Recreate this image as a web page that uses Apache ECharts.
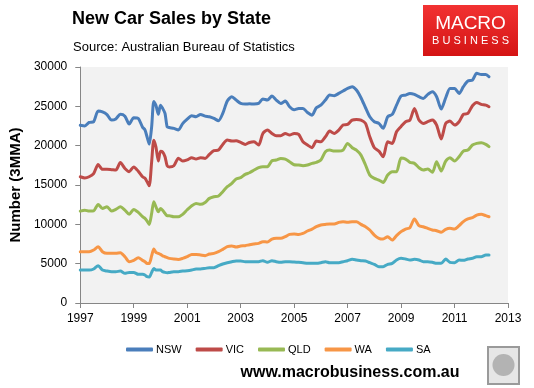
<!DOCTYPE html>
<html>
<head>
<meta charset="utf-8">
<script src="https://cdn.jsdelivr.net/npm/echarts@6/dist/echarts.min.js"></script>
<style>
html,body{margin:0;padding:0;background:#fff;}
#chart{width:534px;height:388px;}
</style>
</head>
<body>
<div id="chart"></div>
<script>
// Shared time grid (decimal years)
const years = [
  1997.0,1997.17,1997.33,1997.5,1997.67,1997.83,
  1998.0,1998.17,1998.33,1998.5,1998.67,1998.83,
  1999.0,1999.17,1999.33,1999.42,1999.5,1999.58,1999.67,1999.75,1999.83,1999.92,
  2000.0,2000.08,2000.17,2000.25,2000.33,2000.5,2000.67,2000.83,
  2001.0,2001.17,2001.33,2001.5,2001.67,2001.83,
  2002.0,2002.17,2002.33,2002.5,2002.67,2002.83,
  2003.0,2003.17,2003.33,2003.5,2003.67,2003.83,
  2004.0,2004.17,2004.33,2004.5,2004.67,2004.83,
  2005.0,2005.17,2005.33,2005.5,2005.67,2005.83,
  2006.0,2006.17,2006.33,2006.5,2006.67,2006.83,
  2007.0,2007.17,2007.33,2007.5,2007.67,2007.83,
  2008.0,2008.17,2008.33,2008.5,2008.67,2008.83,
  2009.0,2009.17,2009.33,2009.5,2009.67,2009.83,
  2010.0,2010.17,2010.33,2010.5,2010.67,2010.83,
  2011.0,2011.17,2011.33,2011.5,2011.67,2011.83,
  2012.0,2012.17,2012.29
];

const nsw = [
  22600,22500,22950,23050,24400,24300,
  23950,23250,23400,24000,23750,22750,
  23550,23450,22350,22000,21100,20200,22400,25600,25150,24000,
  25150,24750,24100,22400,22300,22200,22000,22800,
  23370,23800,23680,23970,23760,23680,
  23460,23170,24100,25670,26220,25800,
  25370,25290,25330,25290,25370,25920,
  25800,26300,25800,25370,25670,24950,
  24560,24730,24730,24220,23880,24820,
  25150,25800,26430,26350,26640,26940,
  27280,27490,27070,26090,24820,23680,
  23050,22830,22200,23680,23970,25150,
  26320,26430,26640,26520,26220,26010,
  26520,26860,26220,24650,26090,27280,
  27280,26640,27490,28210,28340,29190,
  29060,29060,28760
];

const vic = [
  16050,15900,16050,16450,17600,17000,
  17000,16950,16900,17850,17100,16700,
  17300,16750,16050,15850,15400,14900,17950,20700,19850,18050,
  19300,19200,18600,17450,17300,17450,18400,18050,
  18200,18470,18300,18470,18380,18890,
  19360,19440,20160,20710,20580,20630,
  20410,20160,20410,20500,20080,21560,
  21980,21560,21260,21260,21560,21350,
  21560,21430,20500,20080,19740,20580,
  20500,21130,21850,21560,21980,22620,
  22700,23250,23330,23250,22830,21130,
  19740,19310,18590,20500,20290,21770,
  22450,23050,23250,24740,23250,22830,
  23050,23250,22620,20840,22830,23120,
  22620,23050,23980,24100,25080,25500,
  25250,25160,24950
];

const qld = [
  11680,11800,11680,11720,12530,12020,
  12230,11680,11900,12230,11800,11270,
  11900,11520,10970,10750,10420,9990,11390,12880,12230,11600,
  12020,11800,11390,11090,11090,10970,10970,11270,
  11850,12370,12660,12540,12790,13300,
  13510,13600,14150,14790,15210,15760,
  15930,16350,16560,16900,17200,17320,
  17320,18080,18170,18380,18300,17960,
  17580,17540,17450,17540,17750,17880,
  18170,19230,19440,19310,19310,19440,
  20290,19740,19440,18800,17540,16260,
  15840,15630,15330,16260,16690,16690,
  18420,18300,17880,17750,17200,16900,
  17030,16610,17960,16770,18040,18470,
  18040,18590,19310,19440,20080,20290,
  20370,20160,19870
];

const wa = [
  6520,6520,6520,6730,7160,6520,
  6310,6310,6310,6390,5880,5250,
  5420,5760,5420,5250,5030,5030,6000,6860,6440,6310,
  6180,6000,5880,5760,5670,5590,5540,5670,
  5880,6180,6180,6100,6010,6230,
  6310,6520,6820,7160,7240,7120,
  7240,7290,7410,7500,7580,7800,
  7750,8130,8220,8220,8430,8720,
  8780,8720,8850,9150,9400,9700,
  9910,9990,10040,10040,10250,10340,
  10250,10340,10340,9990,9700,9280,
  8640,8220,8130,8430,8000,8560,
  9070,9400,9570,10680,9830,9700,
  9490,9280,9190,8980,9360,9490,
  9400,9830,10340,10680,10850,11180,
  11270,11100,10970
];

const sa = [
  4190,4190,4190,4320,4740,4190,
  4060,3980,3980,4060,3770,3890,
  3890,3640,3640,3560,3340,3300,3890,4400,4190,4190,
  4190,3980,3890,3850,3890,3980,3980,4060,
  4100,4190,4320,4320,4400,4490,
  4490,4740,4960,5120,5250,5340,
  5340,5250,5250,5250,5250,5380,
  5170,5380,5250,5170,5250,5250,
  5210,5170,5120,5040,5040,5040,
  5120,5250,5120,5120,5120,5250,
  5380,5550,5470,5380,5340,5120,
  4910,4620,4620,4910,5040,5470,
  5680,5590,5470,5550,5470,5250,
  5250,5170,5040,5040,5590,5170,
  5120,5470,5420,5590,5680,5890,
  5890,6100,6100
];

const seriesNames = ['NSW','VIC','QLD','WA','SA'];
const seriesValues = [nsw, vic, qld, wa, sa];
const seriesColors = ['#4A7EBB','#BE4B48','#98B954','#F79646','#46AAC5'];

const yTicks = {min:0, max:30000, interval:5000};
const xTicks = {min:1997, max:2013, interval:2};

const font = '"Liberation Sans", Arial, sans-serif';

const chart = echarts.init(document.getElementById('chart'), null, {renderer:'canvas'});

const option = {
  animation:false,
  backgroundColor:'#ffffff',
  grid:{
    left:72, right:26, top:67, bottom:85,
    show:true, backgroundColor:'#f2f2f2', borderWidth:0
  },
  xAxis:{
    type:'value', min:xTicks.min, max:xTicks.max, interval:xTicks.interval,
    axisLine:{show:true, lineStyle:{color:'#868686', width:1}},
    axisTick:{show:true, inside:false, length:5, lineStyle:{color:'#868686'}},
    axisLabel:{color:'#000', fontFamily:font, fontSize:12, margin:10,
      formatter:function(v){return String(Math.round(v));}},
    splitLine:{show:false}
  },
  yAxis:{
    type:'value', min:yTicks.min, max:yTicks.max, interval:yTicks.interval,
    name:'Number (3MMA)', nameLocation:'middle', nameGap:56, nameRotate:90,
    nameTextStyle:{color:'#000', fontFamily:font, fontSize:15, fontWeight:'bold'},
    axisLine:{show:true, lineStyle:{color:'#868686', width:1}},
    axisTick:{show:true, inside:false, length:5, lineStyle:{color:'#868686'}},
    axisLabel:{color:'#000', fontFamily:font, fontSize:12, margin:13,
      formatter:function(v){return String(Math.round(v));}},
    splitLine:{show:false}
  },
  legend:{
    left:121, top:339,
    itemWidth:27, itemHeight:4, itemGap:14,
    icon:'roundRect',
    textStyle:{color:'#000', fontFamily:font, fontSize:11, padding:[0,0,0,-2]},
    data:seriesNames
  },
  series: seriesNames.map(function(name, k){
    return {
      name:name, type:'line',
      data: years.map(function(y,i){return [y, seriesValues[k][i]];}),
      showSymbol:false, symbol:'none',
      smooth:0.25,
      lineStyle:{color:seriesColors[k], width:3, cap:'round', join:'round'},
      itemStyle:{color:seriesColors[k]}
    };
  }),
  graphic:[
    {type:'text', left:72, top:10, style:{text:'New Car Sales by State', fill:'#000',
      font:'bold 18px ' + font}},
    {type:'text', left:73, top:41, style:{text:'Source: Australian Bureau of Statistics', fill:'#000',
      font:'13px ' + font}},
    {type:'rect', shape:{x:423, y:5, width:95, height:51},
      style:{fill:new echarts.graphic.LinearGradient(0,0,0,1,[{offset:0,color:'#f23232'},{offset:1,color:'#d41414'}])}},
    {type:'text', x:470.5, y:24, style:{text:'MACRO', fill:'#fff', font:'19px ' + font,
      textAlign:'center', textVerticalAlign:'middle'}},
    {type:'text', x:470.5, y:41, style:{text:'B U S I N E S S', fill:'#fff', font:'11px ' + font,
      textAlign:'center', textVerticalAlign:'middle'}},
    {type:'text', x:350, y:373, style:{text:'www.macrobusiness.com.au', fill:'#000',
      font:'bold 16px ' + font, textAlign:'center', textVerticalAlign:'middle'}},
    {type:'rect', shape:{x:488, y:347, width:31, height:37},
      style:{fill:'#e6e6e6', stroke:'#9a9a9a', lineWidth:2}},
    {type:'circle', shape:{cx:503.5, cy:365, r:11},
      style:{fill:'#9d9d9d', opacity:0.7}}
  ]
};
chart.setOption(option);
</script>
</body>
</html>
